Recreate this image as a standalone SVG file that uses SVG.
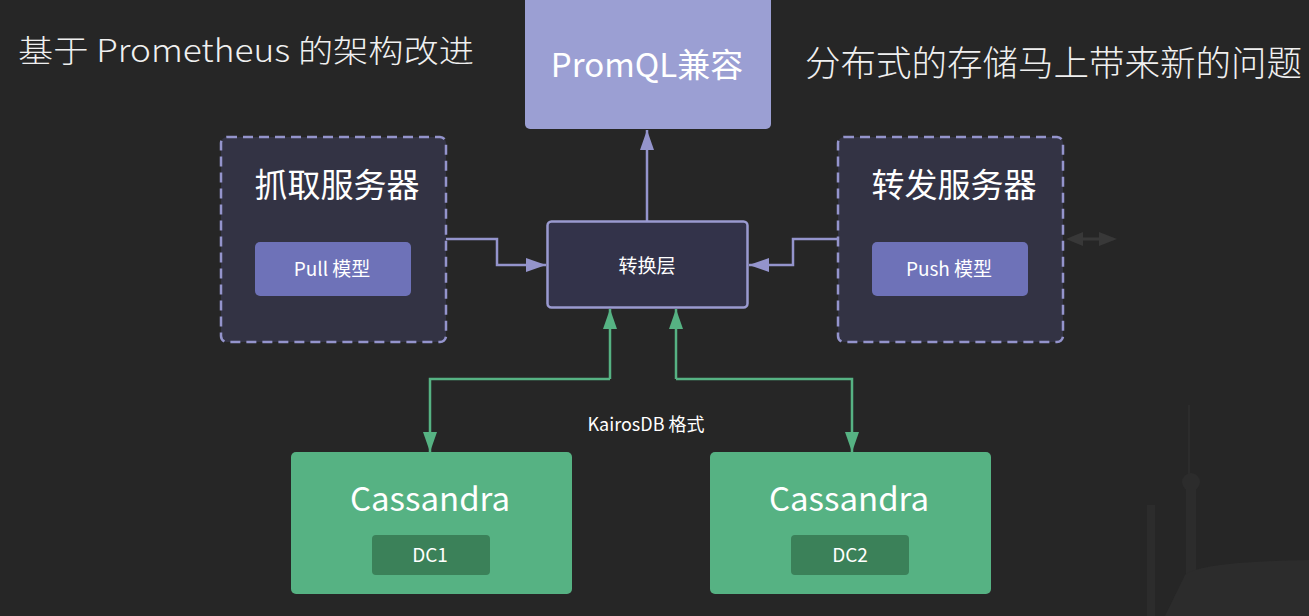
<svg xmlns="http://www.w3.org/2000/svg" width="1309" height="616" viewBox="0 0 1309 616">
<style>
.t{font-family:"Noto Sans CJK SC","Noto Sans",sans-serif;fill:#ffffff}
.title{font-family:"Noto Sans CJK SC","Noto Sans",sans-serif;fill:#f0f0f0;font-weight:300}
.dash{fill:#333344;stroke:#9494cc;stroke-width:2.5;stroke-dasharray:10 6}
.sub{fill:#6e72b8}
.cas{fill:#56b283}
.dc{fill:#3b8159}
.pl{fill:none;stroke:#9494cc;stroke-width:2.5}
.gl{fill:none;stroke:#56b283;stroke-width:2.5}
</style>
<defs>
<marker id="ap" markerWidth="20" markerHeight="14" refX="20" refY="7" orient="auto" markerUnits="userSpaceOnUse" viewBox="0 0 20 14"><path d="M0,0 L20,7 L0,14 z" fill="#9494cc"/></marker>
<marker id="ag" markerWidth="20" markerHeight="14" refX="20" refY="7" orient="auto" markerUnits="userSpaceOnUse" viewBox="0 0 20 14"><path d="M0,0 L20,7 L0,14 z" fill="#56b283"/></marker>
</defs>
<rect width="1309" height="616" fill="#262626"/>
<g id="bg-scene" fill="#2c2c2c">
<rect x="1188" y="405" width="2" height="70"/>
<circle cx="1191" cy="482" r="9"/>
<rect x="1186" y="488" width="10" height="90"/>
<rect x="1147" y="505" width="8" height="111"/>
<path d="M1185,575 Q1200,562 1309,560 L1309,616 L1165,616 z"/>
</g>
<text class="title" x="18" y="62" font-size="31" textLength="456" lengthAdjust="spacingAndGlyphs">基于 Prometheus 的架构改进</text>
<text class="title" x="805" y="76" font-size="35" textLength="497" lengthAdjust="spacingAndGlyphs">分布式的存储马上带来新的问题</text>
<g id="connectors">
<path class="pl" d="M647,221 V130" marker-end="url(#ap)"/>
<path class="pl" d="M446,239 H497 V265 H546" marker-end="url(#ap)"/>
<path class="pl" d="M838,239 H793 V265 H749" marker-end="url(#ap)"/>
<path class="gl" d="M610,379 V309" marker-end="url(#ag)"/>
<path class="gl" d="M610,379 H430 V452" marker-end="url(#ag)"/>
<path class="gl" d="M676,379 V309" marker-end="url(#ag)"/>
<path class="gl" d="M676,379 H852 V452" marker-end="url(#ag)"/>
<path d="M1075,239 H1105" stroke="#383838" stroke-width="3"/>
<path d="M1066,239 L1083,232 L1083,246 z M1117,239 L1099,232 L1099,246 z" fill="#383838"/>
<text class="t" x="646" y="431" font-size="18" text-anchor="middle">KairosDB 格式</text>
</g>
<g id="promql">
<rect x="525" y="-10" width="246" height="139" rx="5" fill="#9b9fd3"/>
<text class="t" x="647" y="77" font-size="33" text-anchor="middle">PromQL兼容</text>
</g>
<g id="convert">
<rect x="547.5" y="221.5" width="200" height="86" rx="4" fill="#33334a" stroke="#9a9ad0" stroke-width="2.5"/>
<text class="t" x="647" y="273" font-size="19" text-anchor="middle">转换层</text>
</g>
<g id="pull-server">
<rect class="dash" x="221" y="137" width="225" height="205" rx="6"/>
<text class="t" x="337" y="197" font-size="33" text-anchor="middle">抓取服务器</text>
<rect class="sub" x="255" y="242" width="156" height="54" rx="5"/>
<text class="t" x="332" y="276" font-size="19" text-anchor="middle">Pull 模型</text>
</g>
<g id="push-server">
<rect class="dash" x="838" y="137" width="225" height="205" rx="6"/>
<text class="t" x="954" y="197" font-size="33" text-anchor="middle">转发服务器</text>
<rect class="sub" x="872" y="242" width="156" height="54" rx="5"/>
<text class="t" x="949" y="276" font-size="19" text-anchor="middle">Push 模型</text>
</g>
<g id="cassandra1">
<rect class="cas" x="291" y="452" width="281" height="142" rx="5"/>
<text class="t" x="430" y="511" font-size="33" text-anchor="middle">Cassandra</text>
<rect class="dc" x="372" y="535" width="118" height="40" rx="4"/>
<text class="t" x="430" y="562" font-size="19" text-anchor="middle">DC1</text>
</g>
<g id="cassandra2">
<rect class="cas" x="710" y="452" width="281" height="142" rx="5"/>
<text class="t" x="849" y="511" font-size="33" text-anchor="middle">Cassandra</text>
<rect class="dc" x="791" y="535" width="118" height="40" rx="4"/>
<text class="t" x="850" y="562" font-size="19" text-anchor="middle">DC2</text>
</g>
</svg>
